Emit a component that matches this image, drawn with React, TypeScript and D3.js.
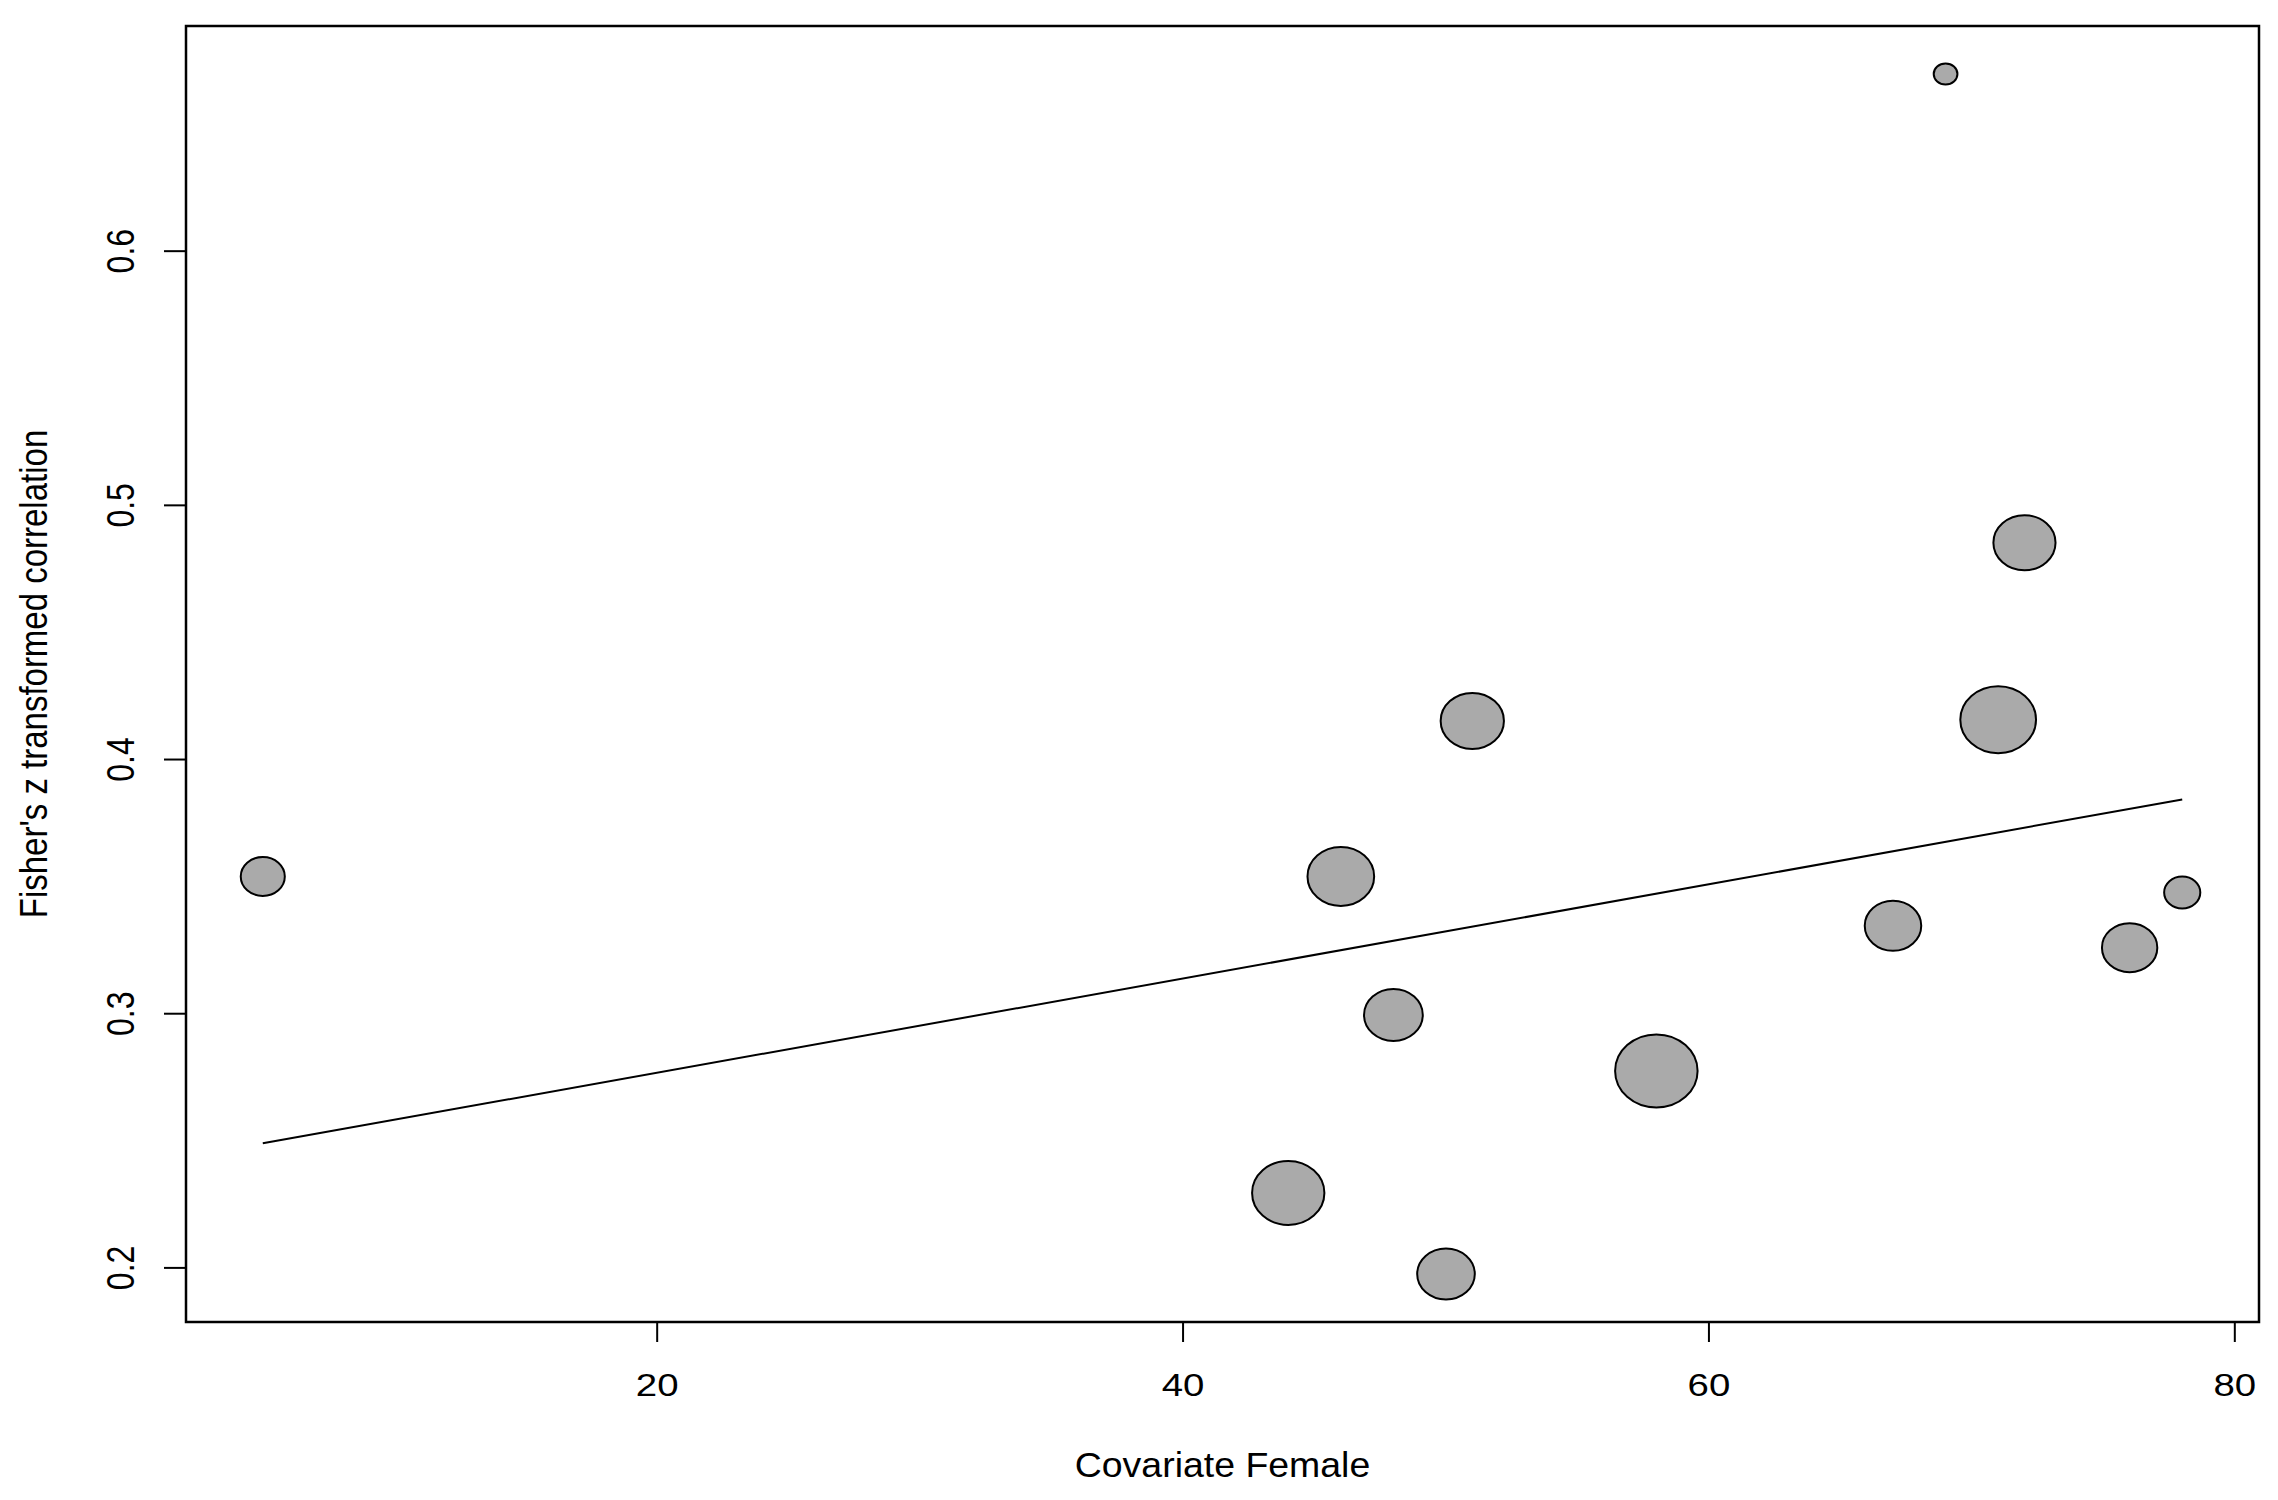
import * as d3 from 'd3'

// covariate (% female) and Fisher's z per study
const femalePct = [5, 44, 46, 48, 50, 51, 58, 67, 69, 71, 72, 76, 78]
const fisherZ = [0.354, 0.2295, 0.354, 0.2995, 0.1976, 0.4152, 0.2775, 0.3346, 0.6697, 0.4157, 0.4853, 0.326, 0.3477]
// relative precision -> bubble size
const precision = [7.8, 12.8, 11.8, 10.4, 10.2, 11.2, 14.6, 10.0, 4.2, 13.4, 11.0, 9.8, 6.4]

// fitted meta-regression line (ends)
const fitX = [5, 78]
const fitY = [0.249, 0.3843]

const xTicks = [20, 40, 60, 80]
const yTicks = [0.2, 0.3, 0.4, 0.5, 0.6]

const W = 2278
const H = 1500
const M = { left: 186, right: 2259, top: 26, bottom: 1322 }
const STRETCH = 1.13 // picture is a bit wider than square
const TXT = 1.2
const FONT = 'Arial, "Liberation Sans", sans-serif'

function pad([a, b]: number[]) {
  const r = b - a
  return [a - r * 0.04, b + r * 0.04]
}

export default function App() {
  const x = d3.scaleLinear().domain(pad(d3.extent(femalePct) as number[])).range([M.left, M.right])
  const y = d3.scaleLinear().domain(pad(d3.extent(fisherZ) as number[])).range([M.bottom, M.top])
  const r = d3.scaleLinear().domain([0, d3.max(precision) as number]).range([0, 36.5])

  const line = d3.line<number>()
    .x(d => x(fitX[d]))
    .y(d => y(fitY[d]))

  const yMid = (M.top + M.bottom) / 2
  const xMid = (M.left + M.right) / 2

  return (
    <svg width={W} height={H} style={{ position: 'absolute', left: 0, top: 0, background: '#fff' }}
      fontFamily={FONT}>
      <rect x={0} y={0} width={W} height={H} fill="#fff" />

      {/* regression line */}
      <path d={line([0, 1]) || ''} fill="none" stroke="#000" strokeWidth={2} />

      {/* bubbles */}
      {femalePct.map((v, i) => (
        <ellipse
          key={i}
          cx={x(v)}
          cy={y(fisherZ[i])}
          rx={r(precision[i]) * STRETCH}
          ry={r(precision[i])}
          fill="#aaaaaa"
          stroke="#000"
          strokeWidth={2}
        />
      ))}

      {/* box */}
      <rect x={M.left} y={M.top} width={M.right - M.left} height={M.bottom - M.top}
        fill="none" stroke="#000" strokeWidth={2.5} />

      {/* x axis */}
      {xTicks.map(t => (
        <g key={t}>
          <line x1={x(t)} x2={x(t)} y1={M.bottom} y2={M.bottom + 20} stroke="#000" strokeWidth={2} />
          <text transform={`translate(${x(t)},1396) scale(${TXT},1)`} textAnchor="middle" fontSize={32}>
            {t}
          </text>
        </g>
      ))}
      <text transform={`translate(${xMid},1477) scale(1.07,1)`} textAnchor="middle" fontSize={35}>
        Covariate Female
      </text>

      {/* y axis */}
      {yTicks.map(t => (
        <g key={t}>
          <line x1={M.left - 22} x2={M.left} y1={y(t)} y2={y(t)} stroke="#000" strokeWidth={2} />
          <text transform={`translate(134,${y(t)}) scale(${TXT},1) rotate(-90)`} textAnchor="middle" fontSize={32}>
            {t.toFixed(1)}
          </text>
        </g>
      ))}
      <text transform={`translate(47,${yMid}) scale(${TXT},1) rotate(-90)`} textAnchor="middle" fontSize={33}>
        Fisher's z transformed correlation
      </text>
    </svg>
  )
}
